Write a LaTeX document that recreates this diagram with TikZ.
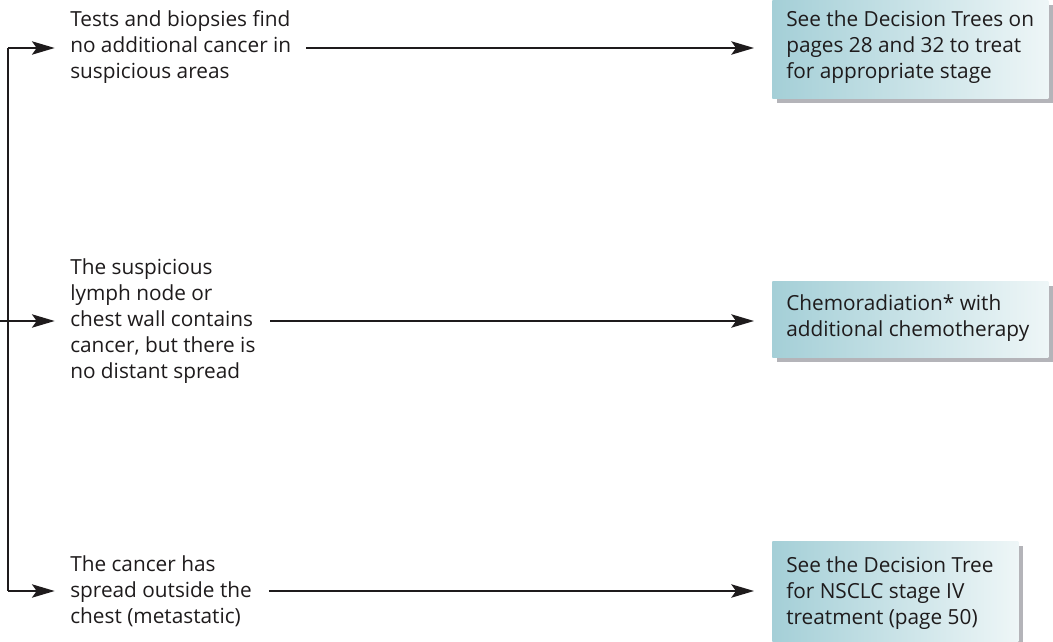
\documentclass[tikz,border=0pt]{standalone}
\usepackage{fontspec}
\setmainfont{Open Sans}
\usetikzlibrary{arrows.meta,shadows}
\definecolor{ink}{HTML}{1E1B1C}
\definecolor{tealL}{HTML}{A4CFD7}
\definecolor{tealR}{HTML}{EEF6F7}
\definecolor{shade}{HTML}{B4B4B9}
\begin{document}
\begin{tikzpicture}[x=0.75pt,y=-0.75pt,
  every node/.style={text=ink,font=\fontsize{15.6}{19.5}\selectfont},
  wire/.style={draw=ink,line width=1.5pt},
  arr/.style={wire,-{Stealth[length=17pt,width=10pt,inset=3.5pt]}},
  cond/.style={align=left,inner xsep=0pt,inner ysep=0pt,anchor=west},
  result/.style={anchor=north west,inner sep=0pt,
    left color=tealL,right color=tealR,
    drop shadow={shadow xshift=3.75pt,shadow yshift=-3.75pt,fill=shade,opacity=1}},
  resulttext/.style={anchor=west,align=left,inner sep=0pt,xshift=10.5pt},
  ]
\useasboundingbox (0,0) rectangle (1053,642);

% branching line on the left
\coordinate (vt) at (8,48);
\coordinate (vb) at (8,591);
\coordinate (in) at (0,321);
\draw[wire] (vt) -- (vb);

% conditions
\node[cond] (c1) at (70,47) {Tests and biopsies find\\no additional cancer in\\suspicious areas};
\node[cond] (c2) at (70,321) {The suspicious\\lymph node or\\chest wall contains\\cancer, but there is\\no distant spread};
\node[cond] (c3) at (70,591) {The cancer has\\spread outside the\\chest (metastatic)};

% outcome boxes
\node[result,minimum width=207pt,minimum height=73.5pt] (r1) at (772,0) {};
\node[result,minimum width=207pt,minimum height=57pt] (r2) at (772,281) {};
\node[result,minimum width=184.5pt,minimum height=75.75pt] (r3) at (772,541) {};

% outcome texts
\node[resulttext] (t1) at ([yshift=1.5pt]r1.west) {See the Decision Trees on\\pages 28 and 32 to treat\\for appropriate stage};
\node[resulttext] (t2) at ([yshift=0.75pt]r2.west) {Chemoradiation* with\\additional chemotherapy};
\node[resulttext] (t3) at ([yshift=-1pt]r3.west) {See the Decision Tree\\for NSCLC stage IV\\treatment (page 50)};

% arrows into the conditions
\draw[arr,shorten >=11.5pt] (vt) -- (vt -| c1.west);
\draw[arr,shorten >=11.5pt] (in) -- (c2.west);
\draw[arr,shorten >=11.5pt] (vb) -- (c3.west);

% arrows from conditions to outcomes
\draw[arr,shorten <=11pt,shorten >=13.5pt] (c1.east |- vt) -- (vt -| r1.west);
\draw[arr,shorten <=11pt,shorten >=13.5pt] (c2.east) -- (c2.east -| r2.west);
\draw[arr,shorten <=12.5pt,shorten >=13.5pt] (c3.east) -- (c3.east -| r3.west);
\end{tikzpicture}
\end{document}
